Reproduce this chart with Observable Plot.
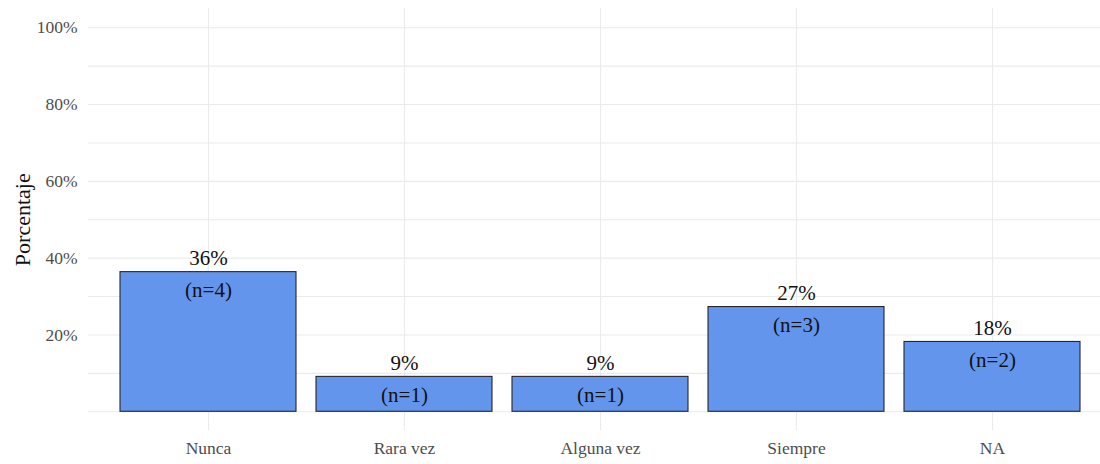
<!DOCTYPE html>
<html>
<head>
<meta charset="utf-8">
<script src="https://cdn.jsdelivr.net/npm/d3@7"></script>
<script src="https://cdn.jsdelivr.net/npm/@observablehq/plot@0.6"></script>
<style>
  html, body { margin: 0; padding: 0; background: #ffffff; }
  #chart svg { display: block; }
</style>
</head>
<body>
<div id="chart"></div>
<script>
const categories = ["Nunca", "Rara vez", "Alguna vez", "Siempre", "NA"];
const counts = [4, 1, 1, 3, 2];
const percents = [36.36, 9.09, 9.09, 27.27, 18.18];
const percentLabels = ["36%", "9%", "9%", "27%", "18%"];
const yTicks = [20, 40, 60, 80, 100];
const yGrid = [0, 10, 20, 30, 40, 50, 60, 70, 80, 90, 100];
const yTitle = "Porcentaje";

const data = categories.map((c, i) => ({
  cat: c, pct: percents[i], lab: percentLabels[i], n: `(n=${counts[i]})`
}));

const font = "'Liberation Serif', 'Times New Roman', serif";

const chart = Plot.plot({
  width: 1100,
  height: 464,
  marginLeft: 88,
  marginRight: 0,
  marginTop: 8,
  marginBottom: 33.5,
  style: { fontFamily: font, background: "#ffffff" },
  x: { domain: categories, range: [88, 1112], paddingInner: 0.1, paddingOuter: 0.15, align: 0.5, label: null },
  y: { domain: [-5, 105], label: null },
  marks: [
    Plot.ruleY(yGrid, { stroke: "#ebebeb", strokeWidth: 1.1 }),
    Plot.ruleX(categories, { x: d => d, y1: -5, y2: 105, stroke: "#ebebeb", strokeWidth: 1.1 }),
    Plot.barY(data, { x: "cat", y1: 0, y2: "pct", fill: "#6495ED", stroke: "#262626", strokeWidth: 1.1 }),
    Plot.text(data, { x: "cat", y: "pct", text: "lab", lineAnchor: "bottom", dy: -7, fontSize: 21, fill: "#111" }),
    Plot.text(data, { x: "cat", y: "pct", text: "n", lineAnchor: "middle", dy: 18, fontSize: 21, fill: "#111" }),
    Plot.axisY(yTicks, { tickSize: 0, tickPadding: 11, tickFormat: d => d + "%", fontSize: 17.5, fill: "#4d4d4d", label: null }),
    Plot.axisX(categories, { tickSize: 0, tickPadding: 11, fontSize: 17.5, fill: "#4d4d4d", label: null }),
    Plot.text([yTitle], { y: () => 50, frameAnchor: "left", textAnchor: "middle", dx: -66, rotate: -90, text: d => d, fontSize: 22, fill: "#111" })
  ]
});

document.getElementById("chart").appendChild(chart);
</script>
</body>
</html>
